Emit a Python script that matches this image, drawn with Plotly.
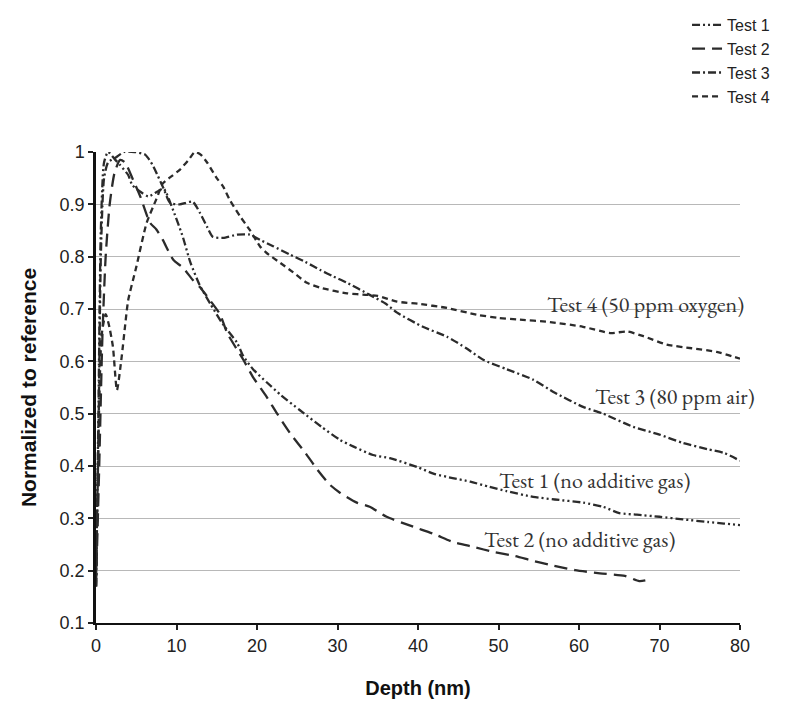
import plotly.graph_objects as go

# ---- data ----
test1_x = [0, 0.3, 0.6, 1.0, 1.5, 2.4, 3.0, 4.0, 4.5, 5.7, 6.5, 7.7, 8.4, 9.6, 10.8, 11.7, 12.9, 14.2, 15.8, 17.5,
           18.3, 19.5, 21.2, 23, 25.3, 28, 30.3, 32, 34.4, 36.5, 39.9, 42, 44.3, 46.5, 48.9, 51, 54.3, 57, 60.5, 63,
           65, 67.2, 70, 72.9, 76, 78, 80]
test1_y = [0.17, 0.5, 0.85, 0.98, 1.0, 0.985, 0.975, 0.956, 0.937, 0.922, 0.915, 0.925, 0.93, 0.888, 0.837, 0.79,
           0.745, 0.71, 0.67, 0.636, 0.61, 0.585, 0.56, 0.535, 0.507, 0.475, 0.45, 0.437, 0.421, 0.415, 0.398, 0.385,
           0.377, 0.37, 0.36, 0.352, 0.341, 0.336, 0.33, 0.322, 0.31, 0.307, 0.303, 0.298, 0.293, 0.29, 0.287]

test2_x = [0, 0.4, 0.8, 1.2, 1.7, 2.3, 3.0, 3.6, 4.6, 5.5, 6.7, 7.5, 8.3, 9.6, 10.8, 12, 12.9, 14, 15.4, 16.3, 18.3,
           19.5, 21.2, 22.5, 24.1, 26, 27.5, 29, 30.3, 32.4, 34, 36.1, 39.4, 42, 44.3, 47, 49.3, 52, 54, 56.4, 59.5,
           62.6, 65.7, 67.5, 68.8]
test2_y = [0.17, 0.4, 0.65, 0.8, 0.9, 0.96, 0.985, 0.98, 0.947, 0.915, 0.865, 0.852, 0.832, 0.794, 0.779, 0.756,
           0.742, 0.72, 0.69, 0.654, 0.603, 0.57, 0.532, 0.5, 0.463, 0.425, 0.393, 0.365, 0.349, 0.33, 0.322, 0.303,
           0.284, 0.27, 0.255, 0.245, 0.236, 0.228, 0.22, 0.211, 0.201, 0.195, 0.19, 0.18, 0.183]

test3_x = [0, 0.3, 0.6, 1.0, 1.5, 2.5, 3.5, 4.8, 6.1, 7.0, 7.6, 8.4, 9.2, 10.4, 12.0, 12.9, 13.8, 14.5, 15.8, 17.5,
           19.1, 20.4, 22, 24.1, 26, 27.8, 29.5, 31.2, 34, 36, 37.4, 40.6, 43.6, 46, 48.1, 51, 54.3, 57, 60.5, 63,
           66.7, 70, 72.9, 76, 78, 80]
test3_y = [0.17, 0.45, 0.8, 0.95, 0.98, 0.99, 1.0, 1.0, 0.995, 0.976, 0.957, 0.93, 0.903, 0.9, 0.905, 0.884, 0.857,
           0.838, 0.836, 0.842, 0.842, 0.832, 0.82, 0.804, 0.79, 0.775, 0.762, 0.75, 0.727, 0.71, 0.693, 0.666, 0.647,
           0.625, 0.603, 0.585, 0.565, 0.54, 0.513, 0.5, 0.475, 0.46, 0.444, 0.432, 0.425, 0.41]

test4_x = [0, 0.3, 0.7, 1.2, 1.6, 2.1, 2.6, 3.2, 3.6, 4.0, 5.0, 6.3, 7.5, 8.3, 9.5, 10.4, 11.5, 12.3, 13.0, 13.8,
           15.0, 15.8, 16.6, 17.9, 19.1, 20.4, 21.2, 22.9, 24.5, 26.2, 28, 31.2, 33.7, 35, 37.4, 40, 43.6, 47.3, 50,
           52.3, 56.4, 60.5, 63.9, 66, 68, 70.9, 74, 77.1, 80]
test4_y = [0.17, 0.45, 0.65, 0.69, 0.67, 0.628, 0.545, 0.61, 0.666, 0.717, 0.78, 0.865, 0.91, 0.94, 0.955, 0.966,
           0.985, 1.0, 0.995, 0.98, 0.95, 0.934, 0.909, 0.877, 0.851, 0.819, 0.807, 0.788, 0.77, 0.75, 0.74, 0.73,
           0.727, 0.725, 0.714, 0.71, 0.702, 0.689, 0.683, 0.68, 0.675, 0.666, 0.654, 0.657, 0.648, 0.632, 0.625,
           0.618, 0.605]

series_names = ["Test 1", "Test 2", "Test 3", "Test 4"]
label_texts = ["Test 1 (no additive gas)", "Test 2 (no additive gas)", "Test 3 (80 ppm air)", "Test 4 (50 ppm oxygen)"]
label_x = [61.9, 60.1, 71.9, 68.2]
label_y = [0.373, 0.259, 0.532, 0.708]

x_ticks = [0, 10, 20, 30, 40, 50, 60, 70, 80]
y_ticks = [0.1, 0.2, 0.3, 0.4, 0.5, 0.6, 0.7, 0.8, 0.9, 1.0]
y_ticklabels = ["0.1", "0.2", "0.3", "0.4", "0.5", "0.6", "0.7", "0.8", "0.9", "1"]

# ---- styling ----
line_color = "#2b2b2b"
dashes = ["8px,3px,2px,3px,2px,3px", "13px,7px", "8px,3px,2px,3px", "6px,4px"]
sans = "Liberation Sans Narrow, Arial Narrow, Liberation Sans, Arial, sans-serif"
serif = "EB Garamond, Garamond, Liberation Serif, Times New Roman, serif"

fig = go.Figure()
for name, xs, ys, d in zip(series_names,
                           [test1_x, test2_x, test3_x, test4_x],
                           [test1_y, test2_y, test3_y, test4_y],
                           dashes):
    fig.add_trace(go.Scatter(x=xs, y=ys, mode="lines", name=name,
                             line=dict(color=line_color, width=2.3, dash=d, shape="spline", smoothing=0.6)))

for t, lx, ly in zip(label_texts, label_x, label_y):
    fig.add_annotation(x=lx, y=ly, text=t, showarrow=False,
                       font=dict(family=serif, size=22, color="#333333"))

fig.update_layout(
    width=785, height=704,
    margin=dict(l=88, r=53, t=144, b=89, autoexpand=False),
    paper_bgcolor="white", plot_bgcolor="white",
    showlegend=True,
    legend=dict(xref="container", yref="container", x=0.865, y=1.0, xanchor="left", yanchor="top",
                font=dict(family=sans, size=16, color="#222222"),
                bgcolor="rgba(0,0,0,0)", tracegroupgap=0, itemwidth=30),
    font=dict(family=sans, color="#222222"),
)
fig.update_xaxes(range=[0, 80], tickvals=x_ticks, ticks="outside", ticklen=5, tickwidth=1.5,
                 tickcolor="#222222", showline=True, linecolor="#111111", linewidth=2,
                 showgrid=False, zeroline=False, automargin=False,
                 tickfont=dict(family=sans, size=18, color="#222222"),
                 title=dict(text="<b>Depth (nm)</b>", font=dict(family=sans, size=20, color="#111111"), standoff=26))
fig.update_yaxes(range=[0.1, 1.0], tickvals=y_ticks, ticktext=y_ticklabels, ticks="outside", ticklen=5,
                 tickwidth=1.5, tickcolor="#222222", showline=True, linecolor="#111111", linewidth=2.5,
                 showgrid=True, gridcolor="#b8b8b8", gridwidth=1.2, zeroline=False, automargin=False,
                 tickfont=dict(family=sans, size=18, color="#222222"),
                 title=dict(text="<b>Normalized to reference</b>", font=dict(family=sans, size=21, color="#111111"),
                            standoff=18))

fig.write_html("out.html")
